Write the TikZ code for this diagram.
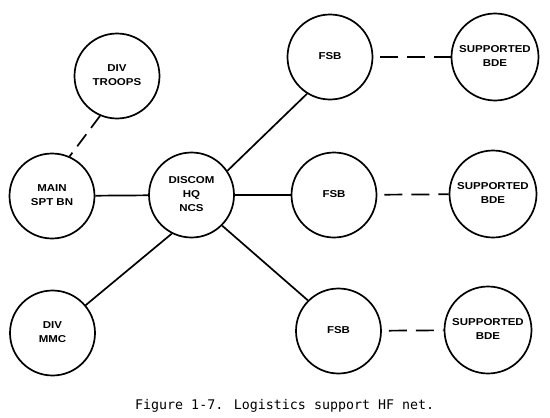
\documentclass[tikz,border=0pt]{standalone}
\usepackage{fontspec}
\setmainfont{Liberation Sans}
\newfontfamily\capfont{DejaVu Sans Mono}
\usepackage{graphicx}
\newcommand\wtxt[1]{\scalebox{1.15}[1]{\begin{tabular}{@{}c@{}}#1\end{tabular}}}
\begin{document}
\begin{tikzpicture}[x=1pt,y=-1pt,
  unit/.style={circle,draw,line width=1.7pt,minimum size=#1,inner sep=0pt,
    font=\bfseries\fontsize{10}{14}\selectfont},
  unit/.default=85pt,
  link/.style={line width=1.7pt},
  dlink/.style={line width=1.7pt,dash pattern=on 18pt off 9pt},
  dlinkb/.style={line width=1.7pt,dash pattern=on 15pt off 8pt}]
\useasboundingbox (0,0) rectangle (550,418);
\node[unit] (troops) at (117,76) {\wtxt{DIV\\TROOPS}};
\node[unit] (main) at (52,196) {\wtxt{MAIN\\SPT BN}};
\node[unit] (discom) at (191.5,195) {\wtxt{DISCOM\\HQ\\NCS}};
\node[unit] (mmc) at (52.5,333) {\wtxt{DIV\\MMC}};
\node[unit] (fsbt) at (330,57) {\wtxt{FSB}};
\node[unit] (fsbm) at (334,195) {\wtxt{FSB}};
\node[unit] (fsbb) at (338.5,331) {\wtxt{FSB}};
\node[unit=87pt] (bdet) at (495,57) {\wtxt{SUPPORTED\\BDE}};
\node[unit=87pt] (bdem) at (493,194) {\wtxt{SUPPORTED\\BDE}};
\node[unit=87pt] (bdeb) at (488,330) {\wtxt{SUPPORTED\\BDE}};
\draw[dlinkb] (troops.247) -- (main.66);
\draw[link] (main) -- (discom);
\draw[link] (discom) -- (fsbm);
\draw[link] (discom.34) -- (fsbt.238);
\draw[link] (discom.243) -- (mmc.40);
\draw[link] (discom.315) -- (fsbb.135);
\draw[dlink,shorten <=7pt] (fsbt) -- (bdet);
\draw[dlink,shorten <=7pt] (fsbm) -- (bdem);
\draw[dlink,shorten <=7pt] (fsbb) -- (bdeb);
\node[font=\capfont\fontsize{13.3}{16}\selectfont,anchor=base west,inner sep=0pt] (cap) at (135,409) {Figure 1-7. Logistics support HF net.};
\end{tikzpicture}
\end{document}
